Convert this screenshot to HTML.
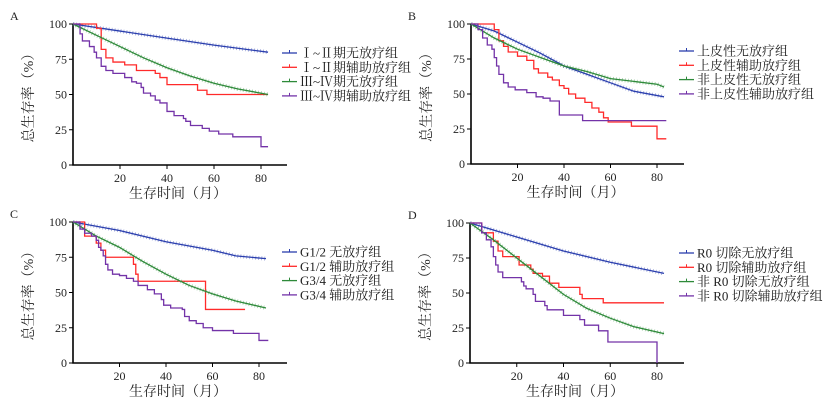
<!DOCTYPE html>
<html><head><meta charset="utf-8"><style>
body{margin:0;background:#fff;width:826px;height:405px;overflow:hidden}
svg text{font-family:"Liberation Serif","Noto Serif CJK SC",serif;fill:#222}
</style></head><body>
<svg id="c" width="826" height="405"></svg>
<script>
const yTicks=[0,25,50,75,100];
const xTicks=[20,40,60,80];
// Panel A
const aBlueT=[0,20,40,60,83], aBlueV=[100,95,90,85,80];
const aGreenT=[0,10,20,30,40,50,60,70,83], aGreenV=[100,92,84,76,69,63,58,54,50];
const aRedT=[0,10,12,14,17,22,27,35,37,40,53,57,83], aRedV=[100,97,82,76,73,71,67,65,62,57,53,50,50];
const aPurT=[0,3,4,7,9,10,12,14,17,22,25,27,29,30,33,35,37,40,43,47,48,50,55,58,62,68,80,83], aPurV=[100,93,88,84,80,76,70,67,65,62,59,58,55,51,49,46,44,38,35,33,31,28,26,24,22,20,13,13];
// Panel B
const bBlueT=[0,10,20,30,40,50,60,70,83], bBlueV=[100,95,87,79,70,64,58,52,48];
const bGreenT=[0,10,20,30,40,50,60,70,80,83], bGreenV=[100,90,82,76,70,66,61,59,57,55];
const bRedT=[0,10,12,14,16,20,24,27,29,33,35,38,40,42,45,49,52,55,57,59,69,80,84], bRedV=[100,96,88,84,80,77,74,68,65,62,60,56,54,50,47,44,40,37,33,30,27,18,18];
const bPurT=[0,3,5,7,9,10,11,12,14,16,19,24,28,31,34,38,47,48,84], bPurV=[100,96,90,85,82,76,70,64,58,55,53,51,48,47,45,35,35,31,31];
// Panel C
const cBlueT=[0,20,40,60,70,83], cBlueV=[100,94,86,80,76,74];
const cGreenT=[0,10,20,30,40,50,60,70,83], cGreenV=[100,90,82,72,63,55,49,44,39];
const cRedT=[0,5,10,12,14,26,27,28,57,74], cRedV=[100,90,85,80,75,70,63,58,38,38];
const cPurT=[0,3,5,8,10,11,12,13,14,15,17,20,23,26,28,32,35,38,39,42,47,48,50,53,56,60,69,80,84], cPurV=[100,95,92,90,87,82,80,76,70,66,63,62,60,58,55,52,49,45,41,39,38,33,30,28,25,23,21,16,16];
// Panel D
const dBlueT=[0,20,40,60,83], dBlueV=[100,90,80,72,64];
const dGreenT=[0,10,20,30,40,50,60,70,83], dGreenV=[100,88,75,62,49,39,32,26,21];
const dRedT=[0,5,10,12,14,21,26,27,31,34,38,47,48,57,83], dRedV=[100,93,87,80,76,70,67,64,62,57,54,49,46,43,43];
const dPurT=[0,5,7,9,10,11,12,14,22,23,24,27,28,32,33,40,47,49,55,59,80], dPurV=[100,93,88,83,76,70,65,61,58,55,53,49,44,41,38,34,31,27,23,15,0];

const COL={blue:"#2b3fae",red:"#ff2a2a",green:"#2e8a3a",pur:"#7333a8"};
const svg=document.getElementById('c');
const NS="http://www.w3.org/2000/svg";
function mk(tag,attrs,parent){const e=document.createElementNS(NS,tag);for(const k in attrs)e.setAttribute(k,attrs[k]);(parent||svg).appendChild(e);return e;}

const panels=[
 {id:"a",label:"A",lx:10,x0:73,x80:261,xEnd:287,y100:24,y0:165,
  series:[[aBlueT,aBlueV,"blue",0],[aRedT,aRedV,"red",1],[aGreenT,aGreenV,"green",0],[aPurT,aPurV,"pur",1]],
  leg:["Ⅰ~Ⅱ期无放疗组","Ⅰ~Ⅱ期辅助放疗组","Ⅲ~Ⅳ期无放疗组","Ⅲ~Ⅳ期辅助放疗组"],legX:282,legY:53},
 {id:"b",label:"B",lx:408,x0:471,x80:657,xEnd:684,y100:24,y0:164,
  series:[[bBlueT,bBlueV,"blue",0],[bRedT,bRedV,"red",1],[bGreenT,bGreenV,"green",0],[bPurT,bPurV,"pur",1]],
  leg:["上皮性无放疗组","上皮性辅助放疗组","非上皮性无放疗组","非上皮性辅助放疗组"],legX:679,legY:51},
 {id:"c",label:"C",lx:10,x0:73,x80:259,xEnd:287,y100:222,y0:363,
  series:[[cBlueT,cBlueV,"blue",0],[cRedT,cRedV,"red",1],[cGreenT,cGreenV,"green",0],[cPurT,cPurV,"pur",1]],
  leg:["G1/2 无放疗组","G1/2 辅助放疗组","G3/4 无放疗组","G3/4 辅助放疗组"],legX:282,legY:252},
 {id:"d",label:"D",lx:408,x0:470,x80:657,xEnd:684,y100:223,y0:363,
  series:[[dBlueT,dBlueV,"blue",0],[dRedT,dRedV,"red",1],[dGreenT,dGreenV,"green",0],[dPurT,dPurV,"pur",1]],
  leg:["R0 切除无放疗组","R0 切除辅助放疗组","非 R0 切除无放疗组","非 R0 切除辅助放疗组"],legX:679,legY:253}
];

panels.forEach(p=>{
 const g=mk("g",{});
 
 
 const X=t=>p.x0+t*(p.x80-p.x0)/80, Y=v=>p.y0-v*(p.y0-p.y100)/100;
 const pl=mk("text",{x:p.lx,y:p.y100-4,"font-size":"12"},g);pl.textContent=p.label;
 
 
 const ax=mk("path",{d:`M${p.x0} ${p.y100}V${p.y0}H${p.xEnd}`,stroke:"#000","stroke-width":"1.6",fill:"none"},g);
 
 
 yTicks.forEach(v=>{
  mk("line",{x1:p.x0-4,x2:p.x0,y1:Y(v),y2:Y(v),stroke:"#000"},g);
  const t=mk("text",{x:p.x0-6,y:Y(v)+4,"font-size":"12","text-anchor":"end"},g);t.textContent=v;
  
  
 });
 xTicks.forEach(v=>{
  mk("line",{x1:X(v),x2:X(v),y1:p.y0,y2:p.y0+4,stroke:"#000"},g);
  const t=mk("text",{x:X(v),y:p.y0+17,"font-size":"12","text-anchor":"middle"},g);t.textContent=v;
  
  
 });
 const xt=mk("text",{x:(p.x0+p.xEnd)/2-2,y:p.y0+33,"font-size":"14","text-anchor":"middle"},g);xt.textContent="生存时间（月）";
 
 
 const cy=(p.y0+p.y100)/2, cx=p.x0-40;
 const yt=mk("text",{x:cx,y:cy,"font-size":"14","text-anchor":"middle",transform:`rotate(-90 ${cx} ${cy})`},g);yt.textContent="总生存率（%）";
 
 
 p.series.forEach((s,i)=>{
  const [T,V,col,step]=s;
  let d=`M${X(T[0])} ${Y(V[0])}`;
  for(let k=1;k<T.length;k++){
   if(step) d+=`H${X(T[k])}V${Y(V[k])}`; else d+=`L${X(T[k])} ${Y(V[k])}`;
  }
  const path=mk("path",{d:d,stroke:COL[col],"stroke-width":"1.3",fill:"none"},g);
  
  
  if(!step){
   const dot=mk("path",{d:d,stroke:COL[col],"stroke-width":"4",fill:"none","stroke-dasharray":"0.8 2.2","stroke-opacity":"0.45"},g);
   
   
  }
  const ly=p.legY+i*14.3;
  const le=mk("g",{},g);
  
  
  mk("line",{x1:p.legX,x2:p.legX+15,y1:ly,y2:ly,stroke:COL[col],"stroke-width":"1.3"},le);
  mk("line",{x1:p.legX+7.5,x2:p.legX+7.5,y1:ly-3,y2:ly,stroke:COL[col],"stroke-width":"1"},le);
  const lt=mk("text",{x:p.legX+18,y:ly+4.5,"font-size":"13"},le);lt.textContent=p.leg[i];
 });
});
</script>
</body></html>
